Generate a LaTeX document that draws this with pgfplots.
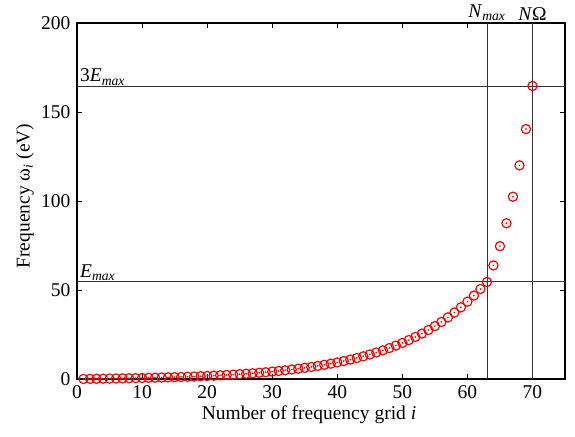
\documentclass[border=0pt]{standalone}
\usepackage{pgfplots}
\pgfplotsset{compat=1.18}
\usepackage{pgfplotstable}
\usepackage{fontspec}
\setmainfont{Liberation Serif}
\pgfplotstableread{
i w
1 0.038
2 0.079
3 0.123
4 0.171
5 0.222
6 0.277
7 0.337
8 0.401
9 0.470
10 0.545
11 0.626
12 0.712
13 0.806
14 0.907
15 1.015
16 1.132
17 1.258
18 1.394
19 1.541
20 1.699
21 1.869
22 2.053
23 2.251
24 2.464
25 2.694
26 2.942
27 3.209
28 3.497
29 3.807
30 4.142
31 4.503
32 4.891
33 5.310
34 5.762
35 6.249
36 6.773
37 7.339
38 7.948
39 8.605
40 9.314
41 10.077
42 10.900
43 11.787
44 12.743
45 13.773
46 14.884
47 16.081
48 17.372
49 18.763
50 20.262
51 21.878
52 23.620
53 25.498
54 27.522
55 29.704
56 32.055
57 34.590
58 37.324
59 40.268
60 43.440
61 46.862
62 50.550
63 54.5
64 63.8
65 74.6
66 87.5
67 102.4
68 120.0
69 140.4
70 164.6
}\freqdata
\begin{document}
\fontsize{19.5bp}{23bp}\selectfont
\begin{tikzpicture}
\begin{axis}[
  scale only axis,
  width=488bp, height=356bp,
  xmin=0, xmax=75, ymin=0, ymax=200,
  xtick={0,10,...,70}, ytick={0,50,...,200},
  tick align=inside,
  major tick length=5bp,
  tick style={black, line width=0.8bp},
  axis line style={black, line width=1.3bp},
  /pgf/number format/assume math mode=true,
  ticklabel style={font=\fontsize{19.5bp}{23bp}\selectfont},
  label style={font=\fontsize{19.5bp}{23bp}\selectfont},
  xlabel={Number of frequency grid \textit{i}},
  ylabel={Frequency ω\textsubscript{\textit{i}} (eV)},
  xlabel style={yshift=6bp, xshift=-12bp},
  ylabel style={yshift=-6bp, xshift=5bp},
  clip=false,
]
\addplot[black!80, line width=0.8bp] coordinates {(0,54.8) (75,54.8)};
\addplot[black!80, line width=0.8bp] coordinates {(0,164.4) (75,164.4)};
\addplot[black!80, line width=0.8bp] coordinates {(63,0) (63,200)};
\addplot[black!80, line width=0.8bp] coordinates {(70,0) (70,200)};
\addplot[only marks, mark=o, mark size=4.6bp, red, mark options={line width=1.2bp}] table[x=i, y=w] {\freqdata};
\addplot[only marks, mark=*, mark size=0.6bp, red] table[x=i, y=w] {\freqdata};
\node[anchor=south west, inner sep=1bp] at (axis cs:0.3,54.8) {\textit{E}\textsubscript{\textit{max}}};
\node[anchor=south west, inner sep=1bp] at (axis cs:0.3,164.4) {3\textit{E}\textsubscript{\textit{max}}};
\node[anchor=south, inner sep=2bp] at (axis cs:63,200) {\textit{N}\textsubscript{\textit{max}}};
\node[anchor=south, inner sep=2bp] at (axis cs:70,200) {\textit{N}Ω};
\end{axis}
\path ([xshift=-77bp,yshift=-58bp]current axis.south west) rectangle ([xshift=10bp,yshift=23bp]current axis.north east);
\end{tikzpicture}
\end{document}
